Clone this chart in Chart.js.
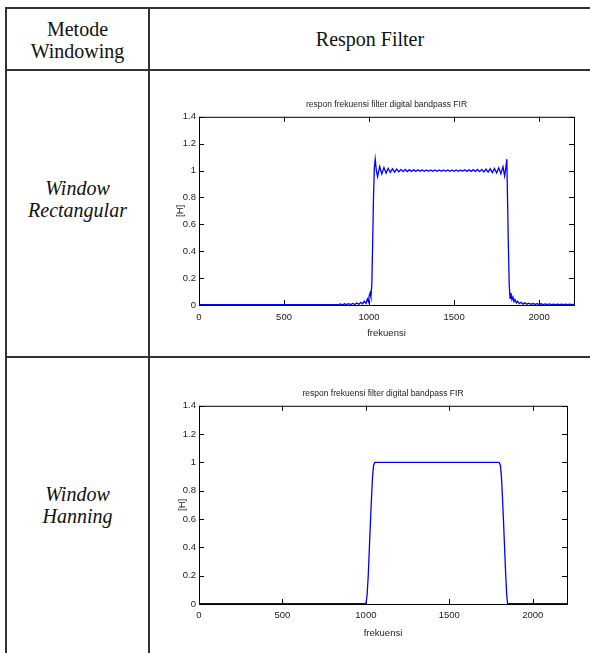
<!DOCTYPE html>
<html>
<head>
<meta charset="utf-8">
<script src="https://cdn.jsdelivr.net/npm/chart.js@4.4.1/dist/chart.umd.min.js"></script>
<style>
  body { margin: 0; background: #fff; width: 590px; height: 653px; overflow: hidden; position: relative;
         font-family: "Liberation Serif", "Times New Roman", serif; color: #111; }
  .line { position: absolute; background: #333; }
  .cell { position: absolute; text-align: center; font-size: 20px; line-height: 22px; }
  .it { font-style: italic; }
  canvas { position: absolute; }
</style>
</head>
<body>
<!-- table grid -->
<div class="line" style="left:5px; top:7px; width:585px; height:2px"></div>
<div class="line" style="left:5px; top:69px; width:585px; height:2px"></div>
<div class="line" style="left:5px; top:356px; width:585px; height:2px"></div>
<div class="line" style="left:5px; top:7px; width:2px; height:646px"></div>
<div class="line" style="left:148px; top:7px; width:2px; height:646px"></div>

<div class="cell" style="left:7px; width:141px; top:18px">Metode<br>Windowing</div>
<div class="cell" style="left:150px; width:440px; top:28px">Respon Filter</div>
<div class="cell it" style="left:7px; width:141px; top:177px">Window<br>Rectangular</div>
<div class="cell it" style="left:7px; width:141px; top:483px">Window<br>Hanning</div>

<canvas id="rectChart" width="440" height="262" style="left:150px; top:90px"></canvas>
<canvas id="hannChart" width="440" height="273" style="left:150px; top:380px"></canvas>

<script>
// axis ticks
const xTicks = [0, 500, 1000, 1500, 2000];
const yTicks = [0, 0.2, 0.4, 0.6, 0.8, 1, 1.2, 1.4];
const xMax = 2205;

// rectangular window response
const rectFreq = [
  0, 400, 810, 820, 832, 844, 856, 868, 880, 892, 904, 916, 928, 940, 952, 962, 972, 982, 990, 996, 1001, 1006,
  1011, 1016, 1021, 1026, 1031, 1036, 1043, 1050, 1062.5, 1075, 1087.5, 1100, 1112.5, 1125, 1137.5, 1150,
  1162.5, 1175, 1187.5, 1200, 1212.5, 1225, 1237.5, 1250, 1262.5, 1275, 1287.5, 1300, 1312.5, 1325, 1337.5,
  1350, 1362.5, 1375, 1387.5, 1400, 1412.5, 1425, 1437.5, 1450, 1462.5, 1475, 1487.5, 1500, 1512.5, 1525,
  1537.5, 1550, 1562.5, 1575, 1587.5, 1600, 1612.5, 1625, 1637.5, 1650, 1662.5, 1675, 1687.5, 1700, 1712.5,
  1725, 1737.5, 1750, 1762.5, 1775, 1787.5, 1797, 1803, 1810, 1814, 1819, 1824, 1829, 1834, 1840, 1846,
  1852, 1858, 1866, 1874, 1884, 1894, 1905, 1916, 1928, 1940, 1952, 1964, 1976, 1988, 2000, 2012, 2024,
  2036, 2048, 2060, 2072, 2084, 2096, 2108, 2120, 2132, 2144, 2156, 2168, 2180, 2192, 2205
];
const rectMag = [
  0.003, 0.003, 0.003, 0.002, 0.008, 0.002, 0.009, 0.003, 0.010, 0.003, 0.012, 0.004, 0.015, 0.005, 0.020, 0.008, 0.028, 0.012, 0.045, 0.025, 0.070, 0.090,
  0.060, 0.150, 0.450, 0.800, 1.020, 1.085, 1.000, 0.955, 1.030, 0.975, 1.022, 0.982, 1.016, 0.986, 1.013, 0.989,
  1.011, 0.991, 1.009, 0.992, 1.008, 0.993, 1.007, 0.994, 1.006, 0.994, 1.006, 0.995, 1.005, 0.995, 1.005,
  0.995, 1.005, 0.995, 1.005, 0.995, 1.005, 0.995, 1.005, 0.995, 1.005, 0.995, 1.005, 0.995, 1.005, 0.995,
  1.005, 0.995, 1.006, 0.994, 1.006, 0.994, 1.007, 0.993, 1.008, 0.992, 1.009, 0.990, 1.011, 0.988, 1.013,
  0.985, 1.016, 0.982, 1.020, 0.976, 1.028, 0.960, 1.010, 1.085, 0.800, 0.450, 0.150, 0.050, 0.090, 0.040, 0.060,
  0.025, 0.040, 0.015, 0.028, 0.010, 0.020, 0.007, 0.016, 0.006, 0.013, 0.005, 0.011, 0.004, 0.010, 0.004, 0.009, 0.003,
  0.008, 0.003, 0.008, 0.003, 0.007, 0.003, 0.007, 0.003, 0.007, 0.003, 0.007, 0.003, 0.007, 0.003, 0.006
];

// hanning window response
const hannFreq = [0, 500, 1000, 1007, 1014, 1021, 1028, 1034, 1040, 1046, 1054, 1300, 1600, 1798, 1806, 1812, 1818, 1824, 1831, 1838, 1844, 1849, 2000, 2205];
const hannMag  = [0.002, 0.002, 0.002, 0.06, 0.20, 0.40, 0.60, 0.76, 0.90, 0.98, 1.00, 1.00, 1.00, 1.00, 0.98, 0.90, 0.76, 0.60, 0.40, 0.20, 0.06, 0.002, 0.002, 0.002];

const axisFont = "'Liberation Sans', Arial, sans-serif";
const titleText = 'respon frekuensi filter digital bandpass FIR';

// MATLAB style box with inward ticks on all four sides
const boxTicks = {
  id: 'boxTicks',
  beforeDatasetsDraw(chart) {
    const { ctx, chartArea: a, scales: { x, y } } = chart;
    ctx.save();
    ctx.strokeStyle = '#000';
    ctx.lineWidth = 1;
    ctx.strokeRect(a.left + 0.5, a.top + 0.5, a.width, a.height);
    ctx.beginPath();
    xTicks.forEach(v => {
      const px = Math.round(x.getPixelForValue(v)) + 0.5;
      ctx.moveTo(px, a.bottom); ctx.lineTo(px, a.bottom - 5);
      ctx.moveTo(px, a.top); ctx.lineTo(px, a.top + 5);
    });
    yTicks.forEach(v => {
      const py = Math.round(y.getPixelForValue(v)) + 0.5;
      ctx.moveTo(a.left, py); ctx.lineTo(a.left + 5, py);
      ctx.moveTo(a.right, py); ctx.lineTo(a.right - 5, py);
    });
    ctx.stroke();
    ctx.restore();
  }
};

function makeChart(id, freq, mag, lay) {
  const pts = freq.map((f, i) => ({ x: f, y: mag[i] }));
  return new Chart(document.getElementById(id), {
    type: 'line',
    data: { datasets: [{ data: pts, borderColor: '#0000ff', borderWidth: 1.3, pointRadius: 0, fill: false, tension: 0 }] },
    options: {
      responsive: false,
      animation: false,
      devicePixelRatio: 1,
      layout: { padding: { left: 0, top: 0, right: lay.right, bottom: 0 } },
      plugins: {
        legend: { display: false },
        tooltip: { enabled: false },
        title: {
          display: true, text: titleText, fullSize: false, color: '#222',
          font: { family: axisFont, size: 8.5, weight: 'normal' },
          padding: { top: lay.titleTop, bottom: lay.titleBottom }
        }
      },
      scales: {
        x: {
          type: 'linear', min: 0, max: xMax,
          grid: { display: false, drawTicks: false },
          border: { display: false },
          afterBuildTicks: s => { s.ticks = xTicks.map(v => ({ value: v })); },
          afterFit: s => { s.height = lay.xHeight; },
          ticks: { color: '#222', font: { family: axisFont, size: 9.5 }, padding: lay.xTickPad, maxRotation: 0, callback: v => String(v) },
          title: { display: true, text: 'frekuensi', color: '#222', font: { family: axisFont, size: 9.5 }, padding: { top: 0, bottom: lay.xTitlePad } }
        },
        y: {
          type: 'linear', min: 0, max: 1.4,
          grid: { display: false, drawTicks: false },
          border: { display: false },
          afterBuildTicks: s => { s.ticks = yTicks.map(v => ({ value: v })); },
          afterFit: s => { s.width = 49; },
          ticks: { color: '#222', font: { family: axisFont, size: 9.5 }, padding: 3, callback: v => String(v) },
          title: { display: true, text: '[H]', color: '#222', font: { family: axisFont, size: 9.5 }, padding: { top: lay.yTitlePad, bottom: 0 } }
        }
      }
    },
    plugins: [boxTicks]
  });
}

makeChart('rectChart', rectFreq, rectMag, { right: 16, titleTop: 9.8, titleBottom: 6.8, xHeight: 47, xTickPad: 7, xTitlePad: 13, yTitlePad: 25 });
makeChart('hannChart', hannFreq, hannMag, { right: 23, titleTop: 8.8, titleBottom: 6.8, xHeight: 49, xTickPad: 6, xTitlePad: 14, yTitlePad: 27 });
</script>
</body>
</html>
